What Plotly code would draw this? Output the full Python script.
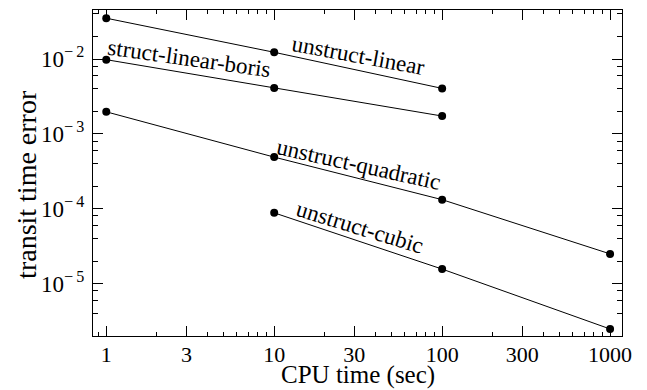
import math
import plotly.graph_objects as go

# ---- data ----
series_names = ["unstruct-linear", "struct-linear-boris", "unstruct-quadratic", "unstruct-cubic"]
cpu_linear = [1, 10, 100]
err_linear = [0.0351, 0.0123, 0.00405]
cpu_boris = [1, 10, 100]
err_boris = [0.0098, 0.0041, 0.00173]
cpu_quadratic = [1, 10, 100, 1000]
err_quadratic = [0.00197, 0.000489, 0.000132, 0.0000249]
cpu_cubic = [10, 100, 1000]
err_cubic = [0.000088, 0.0000156, 0.00000247]

x_major = [1, 3, 10, 30, 100, 300, 1000]
x_major_text = ["1", "3", "10", "30", "100", "300", "1000"]
y_major = [1e-5, 1e-4, 1e-3, 1e-2]
y_exponents = ["5", "4", "3", "2"]
y_major_text = ["10<sup>\u2212\u2009" + e + "</sup>" for e in y_exponents]

# label placement (layout, not data)
label_x = [31.6, 3.12, 31.6, 32.5]
label_y = [0.011, 0.0103, 3.88e-4, 5.57e-5]
label_angle = [10.5, 8, 12.5, 17]

FONT = "Liberation Serif, Times New Roman, serif"

x_minor = []
for dec in [1, 10, 100]:
    for m in [2, 4, 5, 6, 7, 8, 9]:
        x_minor.append(m * dec)
x_minor = [0.9] + x_minor
y_minor = []
for dec in [1e-6, 1e-5, 1e-4, 1e-3, 1e-2]:
    for m in [2, 4, 6, 8]:
        y_minor.append(m * dec)

fig = go.Figure()
for xs, ys in [(cpu_linear, err_linear), (cpu_boris, err_boris),
               (cpu_quadratic, err_quadratic), (cpu_cubic, err_cubic)]:
    fig.add_trace(go.Scatter(
        x=xs, y=ys, mode="lines+markers",
        line=dict(color="black", width=1),
        marker=dict(color="black", size=8),
        showlegend=False,
    ))

annotations = []
for name, lx, ly, ang in zip(series_names, label_x, label_y, label_angle):
    annotations.append(dict(
        x=math.log10(lx), y=math.log10(ly), xref="x", yref="y",
        text=name, showarrow=False, textangle=ang,
        xanchor="center", yanchor="middle",
        font=dict(family=FONT, size=23, color="black"),
    ))
annotations.append(dict(
    x=0.5, y=-0.121, xref="paper", yref="paper", text="CPU time (sec)",
    showarrow=False, xanchor="center", yanchor="middle", borderpad=0,
    font=dict(family=FONT, size=25, color="black"),
))
annotations.append(dict(
    x=-0.127, y=0.466, xref="paper", yref="paper", text="transit time error",
    showarrow=False, xanchor="center", yanchor="middle", textangle=-90,
    font=dict(family=FONT, size=28, color="black"),
))

fig.update_layout(
    width=647, height=390,
    margin=dict(l=93, r=25, t=10, b=54),
    paper_bgcolor="white", plot_bgcolor="white",
    font=dict(family=FONT, size=22, color="black"),
    annotations=annotations,
    xaxis=dict(
        type="log", range=[-0.079, 3.071],
        tickmode="array", tickvals=x_major, ticktext=x_major_text,
        ticks="inside", ticklen=10, tickwidth=1, tickcolor="black",
        showline=True, linecolor="black", linewidth=1.2, mirror="ticks",
        showgrid=False, zeroline=False, ticklabelstandoff=-2,
        tickfont=dict(family=FONT, size=22, color="black"),
        minor=dict(tickmode="array", tickvals=x_minor, ticks="inside",
                   ticklen=4, tickwidth=1, tickcolor="black", showgrid=False),
    ),
    yaxis=dict(
        type="log", range=[-5.701, -1.345],
        tickmode="array", tickvals=y_major, ticktext=y_major_text,
        ticks="inside", ticklen=10, tickwidth=1, tickcolor="black",
        showline=True, linecolor="black", linewidth=1.2, mirror="ticks",
        showgrid=False, zeroline=False, ticklabelstandoff=3,
        tickfont=dict(family=FONT, size=23, color="black"),
        minor=dict(tickmode="array", tickvals=y_minor, ticks="inside",
                   ticklen=5, tickwidth=1, tickcolor="black", showgrid=False),
    ),
)

fig.write_html("out.html")
